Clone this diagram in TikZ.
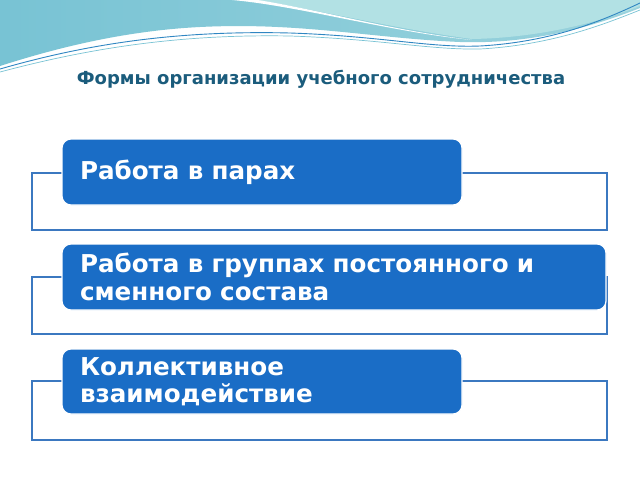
\documentclass[tikz,border=0pt]{standalone}
\usepackage{fontspec}
\setmainfont{DejaVu Sans}
\usetikzlibrary{shadings}
\definecolor{frameblue}{HTML}{3B78C0}
\definecolor{boxblue}{HTML}{1A6DC6}
\definecolor{titlecol}{HTML}{1B5C7C}
\definecolor{tealA}{HTML}{78C3D4}
\definecolor{tealB}{HTML}{9AD3DD}
\definecolor{tealC}{HTML}{B2E1E4}
\definecolor{lineblue}{HTML}{2F86C2}
\tikzset{
  framebox/.style={draw=frameblue, line width=1.6pt, fill=white, rectangle, minimum width=575pt, inner sep=0pt},
  bluebox/.style={draw=white, line width=1.2pt, fill=boxblue, rounded corners=9pt, rectangle, inner xsep=18pt, inner ysep=0pt, text=white, font=\bfseries\fontsize{24.6}{27.5}\selectfont, align=left, anchor=center},
  titletext/.style={text=titlecol, font=\bfseries\fontsize{18}{20}\selectfont}
}
\begin{document}
\begin{tikzpicture}[x=1pt,y=-1pt]
\useasboundingbox (0,0) rectangle (640,480);
\fill[white] (0,0) rectangle (640,480);
% top decoration
\shade[left color=tealA, right color=tealB] (0,0) -- (640,0) -- (640,8) .. controls (580,32) and (520,44) .. (460,42) .. controls (370,38) and (300,22) .. (200,27) .. controls (120,31) and (50,50) .. (0,66) -- cycle;
\fill[tealC] (256,0) -- (640,0) -- (640,6) .. controls (590,26) and (530,38) .. (472,39) .. controls (390,28) and (320,10) .. (256,0) -- cycle;
\fill[white] (232,0) .. controls (300,6) and (390,32) .. (472,40) .. controls (390,30) and (320,10) .. (258,0) -- cycle;
\draw[lineblue, line width=0.9pt] (0,69) .. controls (80,46) and (170,30) .. (290,33) .. controls (380,36) and (430,48) .. (480,46) .. controls (550,42) and (600,22) .. (640,3);
\draw[tealA, line width=0.7pt] (0,72) .. controls (90,48) and (180,34) .. (290,36) .. controls (380,39) and (430,50) .. (480,49) .. controls (550,45) and (600,26) .. (640,10);
% title
\node[titletext] (title) at (321,79) {Формы организации учебного сотрудничества};
% frames
\node[framebox, minimum height=57pt] (f1) at (319.5,201.5) {};
\node[framebox, minimum height=57pt] (f2) at (319.5,305.5) {};
\node[framebox, minimum height=59pt] (f3) at (319.5,410.5) {};
% blue boxes
\node[bluebox, minimum width=400pt, minimum height=66pt, text width=364pt] (b1) at (262,172) {Работа в парах};
\node[bluebox, minimum width=544pt, minimum height=66pt, text width=508pt] (b2) at (334,277) {Работа в группах постоянного и\\сменного состава};
\node[bluebox, minimum width=400pt, minimum height=65pt, text width=364pt] (b3) at (262,381.5) {Коллективное\\взаимодействие};
\end{tikzpicture}
\end{document}
